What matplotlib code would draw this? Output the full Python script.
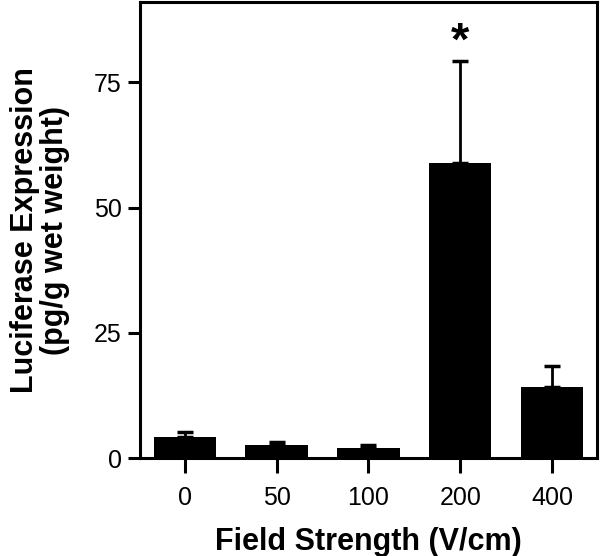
import numpy as np
import matplotlib
matplotlib.use("Agg")
import matplotlib.pyplot as plt

# field strengths and luciferase expression
categories = ["0", "50", "100", "200", "400"]
values = [4.2, 2.6, 2.0, 59.0, 14.2]
errors = [1.0, 0.6, 0.6, 20.2, 4.2]
significant = [False, False, False, True, False]

plt.rcParams['font.family'] = ['Liberation Sans', 'DejaVu Sans']

fig = plt.figure(figsize=(6, 5.56), dpi=100)
ax = fig.add_axes([0.233, 0.176, 0.762, 0.820])

x = np.arange(len(categories))
ax.bar(x, values, width=0.68, color='black', zorder=2)
ax.errorbar(x, values, yerr=[np.zeros(len(errors)), errors], fmt='none',
            ecolor='black', elinewidth=2, capsize=5.5, capthick=2.5, zorder=1)

for xi, v, e, s in zip(x, values, errors, significant):
    if s:
        ax.text(xi, v + e + 3.8, '*', ha='center', va='center',
                fontsize=34, fontweight='bold')

ax.set_xlim(-0.49, 4.49)
ax.set_ylim(0, 91)
ax.set_xticks(x)
ax.set_xticklabels(categories)
ax.set_yticks([0, 25, 50, 75])

for sp in ax.spines.values():
    sp.set_linewidth(2.2)

ax.tick_params(axis='both', width=2.2, length=9, labelsize=18, pad=4)
ax.tick_params(axis='x', length=11, pad=9)

ax.set_xlabel('Field Strength (V/cm)', fontsize=22, fontweight='bold', labelpad=12)
ax.set_ylabel('Luciferase Expression\n(pg/g wet weight)', fontsize=22,
              fontweight='bold', labelpad=17, linespacing=1.0)

plt.savefig('out.png', dpi=100)
